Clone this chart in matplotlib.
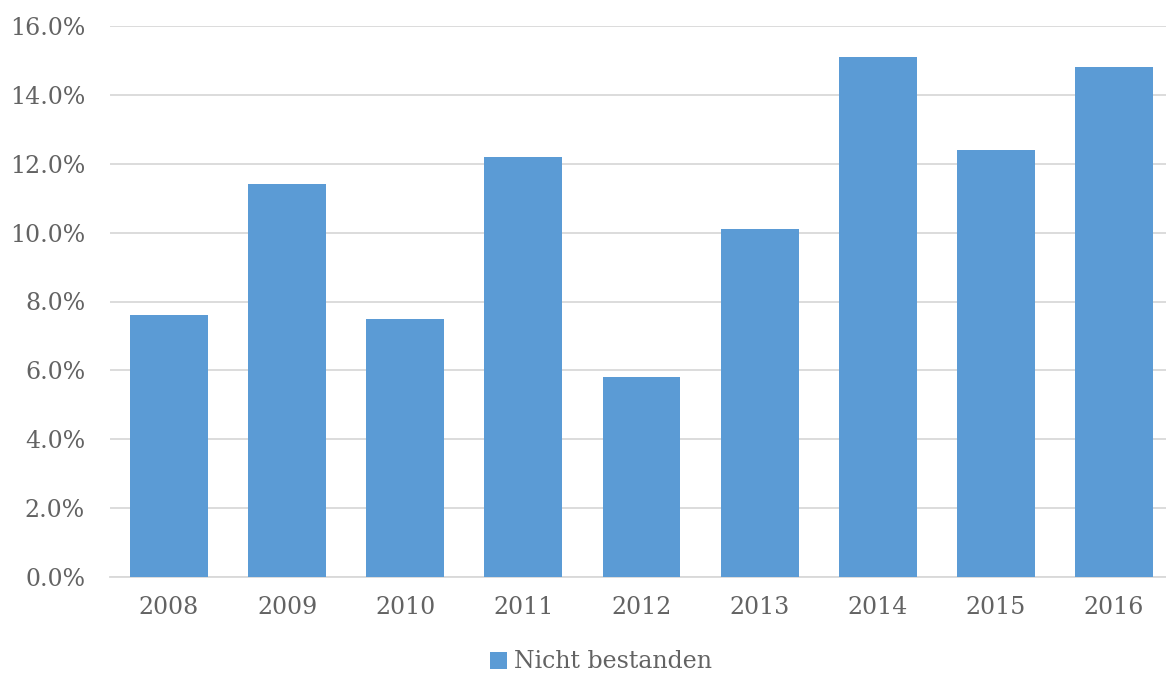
import matplotlib
matplotlib.use("Agg")
import matplotlib.pyplot as plt
from matplotlib.ticker import FuncFormatter, MultipleLocator

# Data
years = ["2008", "2009", "2010", "2011", "2012", "2013", "2014", "2015", "2016"]
nicht_bestanden = [7.6, 11.4, 7.5, 12.2, 5.8, 10.1, 15.1, 12.4, 14.8]  # percent
series_label = "Nicht bestanden"

BAR_COLOR = "#5B9BD5"
TEXT_COLOR = "#636363"
GRID_COLOR = "#D9D9D9"

plt.rcParams["font.family"] = ["DejaVu Serif"]

fig = plt.figure(figsize=(11.66, 6.75), dpi=100)
ax = fig.add_axes([110 / 1166, 1 - 577 / 675, (1173 - 110) / 1166, (577 - 26) / 675])

x = range(len(years))
ax.bar(x, nicht_bestanden, width=0.66, color=BAR_COLOR, label=series_label, zorder=3)

ax.set_xlim(-0.5, len(years) - 0.5)
ax.set_ylim(0, 16)
ax.yaxis.set_major_locator(MultipleLocator(2))
ax.yaxis.set_major_formatter(FuncFormatter(lambda v, p: f"{v:.1f}%"))
ax.set_xticks(list(x))
ax.set_xticklabels(years)

ax.grid(axis="y", color=GRID_COLOR, linewidth=1.3, zorder=0)
for side in ["top", "right", "left"]:
    ax.spines[side].set_visible(False)
ax.spines["bottom"].set_color(GRID_COLOR)
ax.spines["bottom"].set_linewidth(1.3)
ax.tick_params(axis="both", length=0, labelsize=17, colors=TEXT_COLOR)
ax.tick_params(axis="x", pad=14)
ax.tick_params(axis="y", pad=18)

leg = fig.legend(loc="center", bbox_to_anchor=(601 / 1166, 1 - 662 / 675), frameon=False,
                 fontsize=17, handlelength=0.7, handleheight=0.7, handletextpad=0.3)
for t in leg.get_texts():
    t.set_color(TEXT_COLOR)

fig.savefig("out.png", dpi=100)
